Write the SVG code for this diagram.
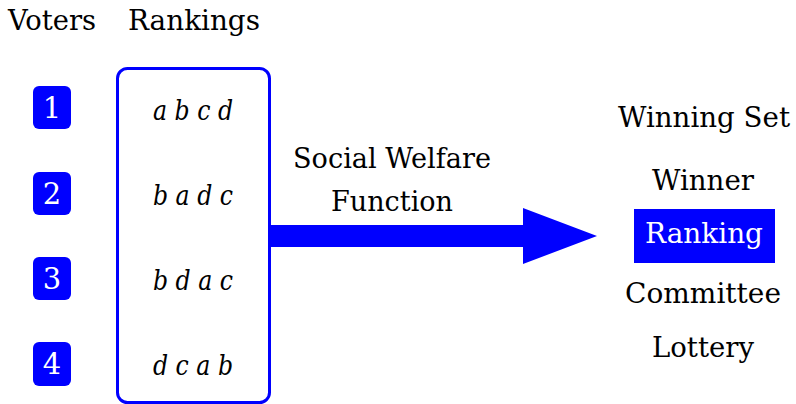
<svg xmlns="http://www.w3.org/2000/svg" width="796" height="404" viewBox="0 0 796 404">
  <style>
    text { font-family: "DejaVu Serif", "Liberation Serif", serif; fill: #000; }
    .hdr { font-size: 27px; text-anchor: middle; }
    .num { font-size: 29px; fill: #fff; text-anchor: middle; }
    .pref { font-size: 27px; font-style: italic; text-anchor: middle; }
    .lbl { font-size: 27px; text-anchor: middle; }
    .out { font-size: 27px; text-anchor: middle; }
    .vbox { fill: #0000ff; }
  </style>

  <!-- column headers -->
  <g id="headers">
    <text class="hdr" x="52" y="30" textLength="88" lengthAdjust="spacingAndGlyphs">Voters</text>
    <text class="hdr" x="194" y="30" textLength="132" lengthAdjust="spacingAndGlyphs">Rankings</text>
  </g>

  <!-- voters -->
  <g id="voter1"><rect class="vbox" x="33" y="86" width="38" height="43" rx="6"/><text class="num" x="52" y="118">1</text></g>
  <g id="voter2"><rect class="vbox" x="33" y="172" width="38" height="43" rx="6"/><text class="num" x="52" y="204">2</text></g>
  <g id="voter3"><rect class="vbox" x="33" y="257" width="38" height="43" rx="6"/><text class="num" x="52" y="289">3</text></g>
  <g id="voter4"><rect class="vbox" x="33" y="342" width="38" height="44" rx="6"/><text class="num" x="52" y="374">4</text></g>

  <!-- preference profile -->
  <g id="rankings">
    <rect x="117.5" y="68.5" width="152" height="334" rx="10" fill="none" stroke="#0000ff" stroke-width="3"/>
    <text class="pref" x="193" y="120" textLength="80" lengthAdjust="spacingAndGlyphs">a b c d</text>
    <text class="pref" x="193" y="205" textLength="80" lengthAdjust="spacingAndGlyphs">b a d c</text>
    <text class="pref" x="193" y="290" textLength="80" lengthAdjust="spacingAndGlyphs">b d a c</text>
    <text class="pref" x="193" y="375" textLength="80" lengthAdjust="spacingAndGlyphs">d c a b</text>
  </g>

  <!-- mapping arrow -->
  <g id="connectors">
    <polygon points="270,225 523,225 523,208 597,236 523,264 523,247 270,247" fill="#0000ff"/>
    <text class="lbl" x="392" y="168" textLength="198" lengthAdjust="spacingAndGlyphs">Social Welfare</text>
    <text class="lbl" x="392" y="211" textLength="122" lengthAdjust="spacingAndGlyphs">Function</text>
  </g>

  <!-- outcome types -->
  <g id="outcomes">
    <text class="out" x="704" y="127" textLength="172" lengthAdjust="spacingAndGlyphs">Winning Set</text>
    <text class="out" x="703" y="190" textLength="102" lengthAdjust="spacingAndGlyphs">Winner</text>
    <g id="ranking-selected">
      <rect x="634" y="209" width="141" height="54" fill="#0000ff"/>
      <text class="out" x="704" y="243" style="fill:#fff" textLength="118" lengthAdjust="spacingAndGlyphs">Ranking</text>
    </g>
    <text class="out" x="703" y="303" textLength="156" lengthAdjust="spacingAndGlyphs">Committee</text>
    <text class="out" x="703" y="357" textLength="102" lengthAdjust="spacingAndGlyphs">Lottery</text>
  </g>
</svg>
